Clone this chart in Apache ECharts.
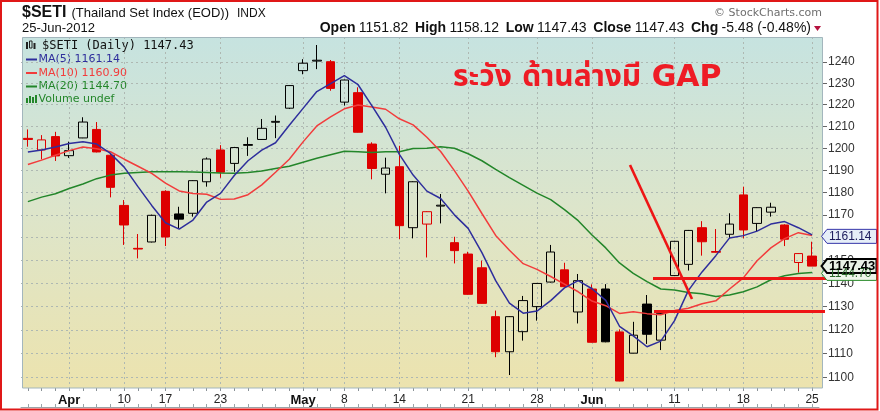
<!DOCTYPE html>
<html><head><meta charset="utf-8">
<script src="https://cdn.jsdelivr.net/npm/echarts@6/dist/echarts.min.js"></script>
<style>html,body{margin:0;padding:0;background:#fff}#c{width:880px;height:411px}</style>
</head><body><div id="c"></div>
<script>
const dates = ['2012-03-28','2012-03-29','2012-03-30','2012-04-02','2012-04-03','2012-04-04','2012-04-05','2012-04-10','2012-04-11','2012-04-12','2012-04-17','2012-04-18','2012-04-19','2012-04-20','2012-04-23','2012-04-24','2012-04-25','2012-04-26','2012-04-27','2012-04-30','2012-05-02','2012-05-03','2012-05-04','2012-05-08','2012-05-09','2012-05-10','2012-05-11','2012-05-14','2012-05-15','2012-05-16','2012-05-17','2012-05-18','2012-05-21','2012-05-22','2012-05-23','2012-05-24','2012-05-25','2012-05-28','2012-05-29','2012-05-30','2012-05-31','2012-06-01','2012-06-04','2012-06-05','2012-06-06','2012-06-07','2012-06-08','2012-06-11','2012-06-12','2012-06-13','2012-06-14','2012-06-15','2012-06-18','2012-06-19','2012-06-20','2012-06-21','2012-06-22','2012-06-25'];
const open  = [1204.5,1199.2,1205.3,1196.6,1204.7,1208.6,1196.8,1174.2,1155.2,1158.0,1180.5,1170.4,1170.7,1184.8,1199.2,1193.1,1201.3,1204.0,1211.9,1218.4,1235.9,1240.4,1240.1,1221.2,1225.6,1201.9,1188.2,1191.6,1164.3,1165.9,1173.9,1157.7,1152.7,1146.7,1125.6,1110.7,1119.2,1129.9,1140.5,1145.8,1127.6,1137.5,1137.5,1119.1,1110.1,1131.0,1115.6,1143.3,1148.2,1164.3,1153.8,1161.4,1178.9,1166.2,1171.2,1165.5,1149.0,1151.82];
const close = [1204.0,1203.8,1196.5,1198.9,1212.0,1198.3,1182.3,1165.5,1154.9,1169.8,1160.2,1168.1,1185.3,1195.1,1189.1,1200.3,1201.7,1209.1,1212.3,1228.9,1239.4,1240.8,1227.6,1231.5,1207.3,1190.8,1191.0,1165.2,1184.8,1171.4,1174.3,1154.2,1135.2,1131.3,1110.7,1125.6,1132.5,1139.9,1153.6,1138.5,1141.1,1114.7,1114.9,1098.4,1117.7,1118.1,1127.0,1158.3,1163.1,1158.1,1153.5,1165.9,1163.3,1173.2,1173.4,1159.2,1152.91,1147.43];
const low   = [1200.7,1194.9,1194.2,1195.6,1204.6,1198.1,1177.8,1156.7,1150.8,1157.8,1156.2,1164.0,1169.2,1182.6,1186.6,1189.3,1196.5,1203.8,1204.6,1218.0,1234.2,1236.6,1226.5,1219.6,1207.2,1185.9,1179.6,1159.2,1159.6,1151.2,1166.2,1148.6,1135.0,1131.2,1108.4,1100.9,1115.4,1123.9,1140.3,1138.3,1122.7,1114.6,1114.7,1098.3,1110.0,1114.0,1111.4,1143.1,1145.5,1152.0,1153.3,1159.6,1159.6,1162.5,1169.2,1156.2,1144.6,1147.43];
const high  = [1208.6,1206.0,1207.5,1203.0,1214.2,1212.0,1197.7,1176.6,1161.5,1170.1,1181.0,1173.6,1185.5,1195.8,1201.4,1200.6,1205.0,1213.4,1215.0,1229.1,1241.3,1248.0,1240.9,1231.7,1228.1,1202.7,1195.7,1201.1,1185.0,1171.6,1179.3,1160.3,1153.7,1149.8,1128.2,1125.8,1134.5,1140.1,1156.7,1148.9,1144.0,1139.5,1139.6,1120.2,1123.4,1134.9,1127.3,1158.5,1163.3,1167.2,1163.7,1170.7,1182.6,1173.4,1175.4,1165.8,1153.1,1158.12];
const ma5  = [1198.3,1199.2,1200.6,1202.2,1203.0,1201.9,1197.6,1191.4,1182.6,1174.2,1166.5,1163.7,1167.7,1175.7,1179.6,1187.6,1194.3,1199.1,1202.5,1210.5,1218.3,1226.1,1229.8,1233.6,1229.3,1219.6,1209.6,1197.2,1187.8,1180.6,1177.3,1170.0,1164.0,1153.3,1141.1,1131.4,1127.1,1128.0,1132.5,1138.0,1141.1,1137.6,1132.6,1121.5,1117.4,1112.8,1115.2,1123.9,1136.8,1144.9,1152.0,1159.8,1160.8,1162.8,1165.9,1167.0,1164.3,1161.14];
const ma10 = [1192.6,1194.6,1196.8,1198.9,1200.6,1199.8,1198.4,1195.0,1191.8,1188.6,1184.2,1180.7,1179.5,1179.2,1176.9,1177.1,1179.0,1183.4,1189.1,1195.0,1202.9,1210.2,1214.4,1218.1,1219.9,1218.9,1217.9,1213.5,1210.7,1205.0,1198.5,1189.8,1180.6,1170.6,1160.9,1154.4,1148.5,1146.0,1142.9,1139.6,1136.3,1132.3,1130.3,1127.0,1127.7,1126.9,1126.4,1128.2,1129.2,1131.1,1132.4,1137.5,1142.3,1149.8,1155.4,1159.5,1162.1,1160.90];
const ma20 = [1175.9,1177.9,1179.4,1181.8,1183.8,1186.2,1187.8,1188.6,1189.0,1189.3,1189.3,1189.3,1189.2,1189.0,1188.7,1188.6,1189.0,1189.7,1190.8,1191.8,1193.6,1195.4,1197.0,1198.6,1198.4,1198.0,1198.4,1198.4,1199.9,1200.0,1200.7,1200.0,1197.5,1194.3,1190.4,1186.7,1183.2,1179.7,1176.8,1172.3,1167.4,1161.1,1155.4,1148.8,1144.3,1140.7,1137.5,1137.1,1136.0,1135.4,1134.3,1134.9,1136.3,1138.4,1141.5,1143.2,1144.2,1144.70];
const xTickDates = ['2012-04-02','2012-04-10','2012-04-17','2012-04-23','2012-05-02','2012-05-08','2012-05-14','2012-05-21','2012-05-28','2012-06-01','2012-06-11','2012-06-18','2012-06-25'];
const xTickText  = ['Apr','10','17','23','May','8','14','21','28','Jun','11','18','25'];
const yTicks = [1100,1110,1120,1130,1140,1150,1160,1170,1180,1190,1200,1210,1220,1230,1240];

const SANS = '"Liberation Sans", Arial, sans-serif';
const DV = '"DejaVu Sans", Verdana, sans-serif';
const MONO = '"DejaVu Sans Mono", monospace';
const RED = '#dd0000', BLACK = '#000000';
const C5 = '#2e2e9c', C10 = '#f23c3c', C20 = '#23862a';

const labelMap = {};
xTickDates.forEach((d, k) => { labelMap[d] = xTickText[k]; });
const isTick = (idx, val) => labelMap[val] !== undefined;

const candleData = dates.map((d, i) => {
  const o = open[i], c = close[i];
  const prev = i > 0 ? close[i - 1] : o;
  const col = c >= prev ? BLACK : RED;
  const fill = c > o ? 'rgba(0,0,0,0)' : col;
  return { value: [o, c, low[i], high[i]],
    itemStyle: { color: fill, color0: fill, borderColor: col, borderColor0: col } };
});

const n = close.length;
const chg = close[n - 1] - close[n - 2];
const pct = chg / close[n - 2] * 100;

const baseGraphic = [
  { type: 'rect', z: -10, shape: { x: 22.5, y: 37, width: 800, height: 351 },
    style: { fill: { type: 'linear', x: 0, y: 0, x2: 0, y2: 1,
      colorStops: [{ offset: 0, color: '#c6e3e0' }, { offset: 0.5, color: '#dde5ca' }, { offset: 1, color: '#ece3ae' }] } } },
  { type: 'rect', z: 8, shape: { x: 22.5, y: 37.5, width: 800, height: 350.5 },
    style: { fill: 'none', stroke: '#a3b6bd', lineWidth: 1 } },
  // title
  { type: 'text', x: 22, y: 12.5, style: { text: '$SETI', font: 'bold 16px ' + SANS, fill: '#111', verticalAlign: 'middle' } },
  { type: 'text', x: 71.5, y: 13.8, style: { text: '(Thailand Set Index (EOD))', font: '13px ' + SANS, fill: '#111', verticalAlign: 'middle' } },
  { type: 'text', x: 237, y: 14, style: { text: 'INDX', font: '12px ' + SANS, fill: '#111', verticalAlign: 'middle' } },
  { type: 'text', x: 22, y: 28.8, style: { text: '25-Jun-2012', font: '13px ' + SANS, fill: '#111', verticalAlign: 'middle' } },
  { type: 'text', x: 822, y: 13.3, style: { text: '\u00A9 StockCharts.com', font: '11px ' + DV, fill: '#6e6e6e', align: 'right', verticalAlign: 'middle' } },
  { type: 'text', x: 811, y: 28.5, style: {
      text: '{l|Open} {v|' + open[n-1].toFixed(2) + '}  {l|High} {v|' + high[n-1].toFixed(2) + '}  {l|Low} {v|' + low[n-1].toFixed(2) +
            '}  {l|Close} {v|' + close[n-1].toFixed(2) + '}  {l|Chg} {v|' + chg.toFixed(2) + ' (' + pct.toFixed(2) + '%)}',
      align: 'right', verticalAlign: 'middle',
      rich: { l: { font: 'bold 14px ' + SANS, fill: '#111' }, v: { font: '14px ' + SANS, fill: '#111' } } } },
  { type: 'polygon', shape: { points: [[814, 26], [821, 26], [817.5, 31]] }, style: { fill: '#b5123f' } },
  // legend
  { type: 'rect', shape: { x: 26, y: 42, width: 2, height: 7 }, style: { fill: '#222' } },
  { type: 'rect', shape: { x: 29.5, y: 41, width: 2.5, height: 7 }, style: { fill: 'none', stroke: '#222', lineWidth: 1 } },
  { type: 'rect', shape: { x: 33.5, y: 43, width: 2, height: 6 }, style: { fill: '#222' } },
  { type: 'text', x: 42, y: 45.5, style: { text: '$SETI (Daily) ' + close[n-1].toFixed(2), font: '12px ' + MONO, fill: '#111', verticalAlign: 'middle' } },
  { type: 'line', shape: { x1: 26, y1: 59.5, x2: 37, y2: 59.5 }, style: { stroke: C5, lineWidth: 2 } },
  { type: 'text', x: 38.5, y: 59.5, style: { text: 'MA(5) ' + ma5[n-1].toFixed(2), font: '11px ' + DV, fill: C5, verticalAlign: 'middle' } },
  { type: 'line', shape: { x1: 26, y1: 73, x2: 37, y2: 73 }, style: { stroke: C10, lineWidth: 2 } },
  { type: 'text', x: 38.5, y: 73, style: { text: 'MA(10) ' + ma10[n-1].toFixed(2), font: '11px ' + DV, fill: C10, verticalAlign: 'middle' } },
  { type: 'line', shape: { x1: 26, y1: 86.5, x2: 37, y2: 86.5 }, style: { stroke: C20, lineWidth: 2 } },
  { type: 'text', x: 38.5, y: 86.5, style: { text: 'MA(20) ' + ma20[n-1].toFixed(2), font: '11px ' + DV, fill: C20, verticalAlign: 'middle' } },
  { type: 'rect', shape: { x: 26, y: 98, width: 2, height: 5 }, style: { fill: C20 } },
  { type: 'rect', shape: { x: 29, y: 96, width: 2, height: 7 }, style: { fill: C20 } },
  { type: 'rect', shape: { x: 32, y: 97, width: 2, height: 6 }, style: { fill: C20 } },
  { type: 'rect', shape: { x: 35, y: 95, width: 2, height: 8 }, style: { fill: C20 } },
  { type: 'text', x: 38.5, y: 99.5, style: { text: 'Volume undef', font: '11px ' + DV, fill: C20, verticalAlign: 'middle' } },
  // annotation
  { type: 'text', z: 20, x: 453, y: 78, style: { text: 'ระวัง ด้านล่างมี GAP', font: 'bold 30px "DejaVu Sans", Tahoma, "Noto Sans Thai", sans-serif', fill: '#ee1c25', verticalAlign: 'middle' } },
  { type: 'line', z: 20, shape: { x1: 630, y1: 165, x2: 692, y2: 299 }, style: { stroke: '#ee1515', lineWidth: 2.6 } },
  { type: 'line', z: 20, shape: { x1: 653, y1: 278.5, x2: 832, y2: 278.5 }, style: { stroke: '#ee1515', lineWidth: 3 } },
  { type: 'line', z: 20, shape: { x1: 654, y1: 311.5, x2: 825, y2: 311.5 }, style: { stroke: '#ee1515', lineWidth: 3 } },
  // outer border
  { type: 'rect', z: 30, shape: { x: 1, y: 1, width: 876.5, height: 408.5 }, style: { fill: 'none', stroke: '#e01818', lineWidth: 2 } }
];

const option = {
  animation: false,
  backgroundColor: '#ffffff',
  grid: { left: 21, right: 61, top: 37, bottom: 23, containLabel: false },
  xAxis: [{
    type: 'category', data: dates, boundaryGap: true,
    axisLine: { show: false },
    axisTick: { show: true, interval: 0, length: 3, alignWithLabel: true, lineStyle: { color: '#8a9296' } },
    axisLabel: { interval: isTick, margin: 6, color: '#222', fontSize: 12, fontFamily: SANS,
      formatter: v => { const t = labelMap[v] || ''; return /^[A-Z]/.test(t) ? '{b|' + t + '}' : t; },
      rich: { b: { fontWeight: 'bold', fontSize: 13, fontFamily: SANS, color: '#111' } } },
    splitLine: { show: true, interval: isTick, alignWithLabel: true, lineStyle: { color: '#aeb8b2', type: [2, 3], width: 1 } }
  }, {
    type: 'category', data: dates, boundaryGap: true, position: 'bottom', offset: 19,
    axisLine: { show: true, lineStyle: { color: '#9aa4a8' } },
    axisTick: { show: true, inside: true, interval: 0, length: 3, alignWithLabel: true, lineStyle: { color: '#9aa4a8' } },
    axisLabel: { show: false }, splitLine: { show: false }
  }],
  yAxis: {
    type: 'log', logBase: 10, position: 'right', offset: 4, min: 1095.5, max: 1251.8,
    axisLine: { show: false },
    axisTick: { show: true, length: 4, customValues: yTicks, lineStyle: { color: '#666' } },
    axisLabel: { customValues: yTicks, margin: 5, color: '#333', fontSize: 12, fontFamily: SANS,
      formatter: v => String(Math.round(v)) },
    splitLine: { show: true, lineStyle: { color: '#aeb8b2', type: [2, 3], width: 1 } }
  },
  series: [
    { type: 'candlestick', data: candleData, barWidth: 9, itemStyle: { borderWidth: 1 }, z: 3 },
    { type: 'line', data: ma20, symbol: 'none', lineStyle: { color: C20, width: 1.5 }, z: 4 },
    { type: 'line', data: ma10, symbol: 'none', lineStyle: { color: C10, width: 1.5 }, z: 4 },
    { type: 'line', data: ma5, symbol: 'none', lineStyle: { color: C5, width: 1.5 }, z: 4 }
  ],
  graphic: { elements: baseGraphic }
};

const chart = echarts.init(document.getElementById('c'));
chart.setOption(option);

function makeTag(val, dy, stroke, fill, txtColor, lw, bold) {
  const y = chart.convertToPixel({ yAxisIndex: 0 }, val) + dy;
  return [
    { type: 'polygon', z: 25, shape: { points: [[821.5, y], [827, y - 7], [876.5, y - 7], [876.5, y + 7], [827, y + 7]] },
      style: { fill: fill, stroke: stroke, lineWidth: lw } },
    { type: 'text', z: 26, x: 829, y: y, style: { text: val.toFixed(2), font: (bold ? 'bold 13px ' : '12px ') + SANS, fill: txtColor, verticalAlign: 'middle' } }
  ];
}
const tags = [].concat(
  makeTag(ma20[n-1], 1, '#2a8a2a', '#eef6ea', '#2a6a2a', 1, false),
  makeTag(close[n-1], 0, '#000', '#e9f0e6', '#000', 2, true),
  makeTag(ma5[n-1], 1.5, '#3434a8', '#e6eef8', '#1c1c5c', 1, false)
);
option.graphic = { elements: baseGraphic.concat(tags) };
chart.setOption(option, true);
</script>
</body></html>
